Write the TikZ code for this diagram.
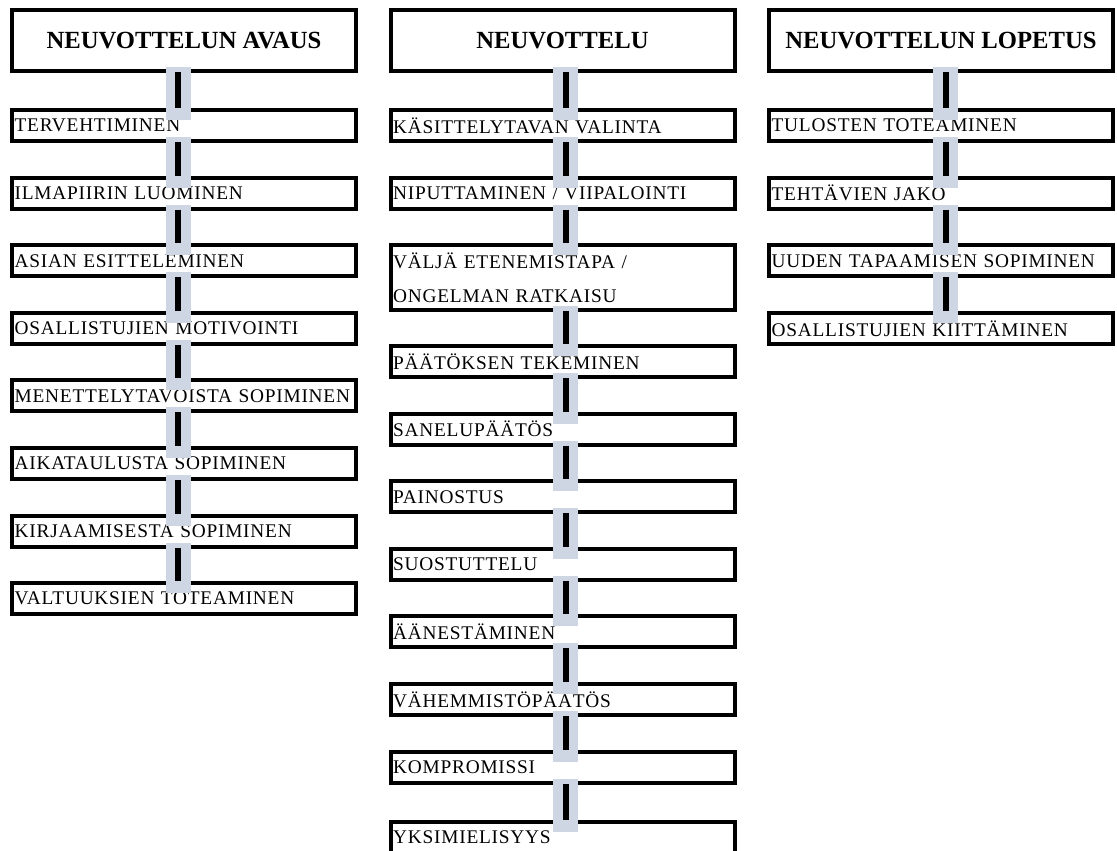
\documentclass[tikz,border=0pt]{standalone}
\usepackage{fontspec}
\setmainfont{Liberation Serif}
\newfontfamily\itemfont[LetterSpace=4]{Liberation Serif}
\usepackage{tikz}
\usepackage{xcolor}
\definecolor{linkgray}{RGB}{207,214,227}
\begin{document}
\begin{tikzpicture}[x=0.75pt,y=-0.75pt,
    box/.style={draw=black,line width=3pt,minimum width=258pt,minimum height=23.25pt,
        text width=254pt,inner xsep=2pt,inner ysep=0pt,align=left,
        font=\itemfont\fontsize{14.5}{16}\selectfont},
    headbox/.style={draw=black,line width=3pt,minimum width=258pt,minimum height=45.75pt,
        align=center,font=\bfseries\fontsize{18.5}{22}\selectfont},
    link/.style={draw=linkgray,line width=18.75pt,shorten <=-4.5pt,shorten >=-9pt,
        postaction={draw=black,line width=4.5pt,shorten <=-0.75pt,shorten >=0pt}}]
    \useasboundingbox (0,0) rectangle (1117,850);
    \clip (0,0) rectangle (1117,850);
    % avaus
    \node[headbox] (avaus) at (184,40.5) {NEUVOTTELUN AVAUS};
    \node[box] (a1) at (184,125.5) {TERVEHTIMINEN};
    \node[box] (a2) at (184,193.1) {ILMAPIIRIN LUOMINEN};
    \node[box] (a3) at (184,260.7) {ASIAN ESITTELEMINEN};
    \node[box] (a4) at (184,328.3) {OSALLISTUJIEN MOTIVOINTI};
    \node[box] (a5) at (184,395.9) {MENETTELYTAVOISTA SOPIMINEN};
    \node[box] (a6) at (184,463.5) {AIKATAULUSTA SOPIMINEN};
    \node[box] (a7) at (184,531.1) {KIRJAAMISESTA SOPIMINEN};
    \node[box] (a8) at (184,598.7) {VALTUUKSIEN TOTEAMINEN};
    % neuvottelu
    \node[headbox] (neuv) at (562.5,40.5) {NEUVOTTELU};
    \node[box] (n1) at (562.5,125.5) {KÄSITTELYTAVAN VALINTA};
    \node[box] (n2) at (562.5,193.1) {NIPUTTAMINEN / VIIPALOINTI};
    \node[box,minimum height=48.75pt,font=\itemfont\fontsize{14.5}{25.5}\selectfont] (n3) at (562.5,277.5)
        {VÄLJÄ ETENEMISTAPA /\\ONGELMAN RATKAISU};
    \node[box] (n4) at (562.5,361.5) {PÄÄTÖKSEN TEKEMINEN};
    \node[box] (n5) at (562.5,429.1) {SANELUPÄÄTÖS};
    \node[box] (n6) at (562.5,496.7) {PAINOSTUS};
    \node[box] (n7) at (562.5,564.3) {SUOSTUTTELU};
    \node[box] (n8) at (562.5,631.9) {ÄÄNESTÄMINEN};
    \node[box] (n9) at (562.5,699.5) {VÄHEMMISTÖPÄÄTÖS};
    \node[box] (n10) at (562.5,767.1) {KOMPROMISSI};
    \node[box] (n11) at (562.5,837.5) {YKSIMIELISYYS};
    % lopetus
    \node[headbox] (lop) at (941,40.5) {NEUVOTTELUN LOPETUS};
    \node[box] (l1) at (941,125.5) {TULOSTEN TOTEAMINEN};
    \node[box] (l2) at (941,193.1) {TEHTÄVIEN JAKO};
    \node[box] (l3) at (941,260.7) {UUDEN TAPAAMISEN SOPIMINEN};
    \node[box] (l4) at (941,328.3) {OSALLISTUJIEN KIITTÄMINEN};
    % links
    \draw[link] ([xshift=-4.5pt]avaus.south) -- ([xshift=-4.5pt]a1.north);
    \draw[link] ([xshift=-4.5pt]a1.south) -- ([xshift=-4.5pt]a2.north);
    \draw[link] ([xshift=-4.5pt]a2.south) -- ([xshift=-4.5pt]a3.north);
    \draw[link] ([xshift=-4.5pt]a3.south) -- ([xshift=-4.5pt]a4.north);
    \draw[link] ([xshift=-4.5pt]a4.south) -- ([xshift=-4.5pt]a5.north);
    \draw[link] ([xshift=-4.5pt]a5.south) -- ([xshift=-4.5pt]a6.north);
    \draw[link] ([xshift=-4.5pt]a6.south) -- ([xshift=-4.5pt]a7.north);
    \draw[link] ([xshift=-4.5pt]a7.south) -- ([xshift=-4.5pt]a8.north);
    \draw[link] ([xshift=2.6pt]neuv.south) -- ([xshift=2.6pt]n1.north);
    \draw[link] ([xshift=2.6pt]n1.south) -- ([xshift=2.6pt]n2.north);
    \draw[link] ([xshift=2.6pt]n2.south) -- ([xshift=2.6pt]n3.north);
    \draw[link] ([xshift=2.6pt]n3.south) -- ([xshift=2.6pt]n4.north);
    \draw[link] ([xshift=2.6pt]n4.south) -- ([xshift=2.6pt]n5.north);
    \draw[link] ([xshift=2.6pt]n5.south) -- ([xshift=2.6pt]n6.north);
    \draw[link] ([xshift=2.6pt]n6.south) -- ([xshift=2.6pt]n7.north);
    \draw[link] ([xshift=2.6pt]n7.south) -- ([xshift=2.6pt]n8.north);
    \draw[link] ([xshift=2.6pt]n8.south) -- ([xshift=2.6pt]n9.north);
    \draw[link] ([xshift=2.6pt]n9.south) -- ([xshift=2.6pt]n10.north);
    \draw[link] ([xshift=2.6pt]n10.south) -- ([xshift=2.6pt]n11.north);
    \draw[link] ([xshift=3.4pt]lop.south) -- ([xshift=3.4pt]l1.north);
    \draw[link] ([xshift=3.4pt]l1.south) -- ([xshift=3.4pt]l2.north);
    \draw[link] ([xshift=3.4pt]l2.south) -- ([xshift=3.4pt]l3.north);
    \draw[link] ([xshift=3.4pt]l3.south) -- ([xshift=3.4pt]l4.north);
\end{tikzpicture}
\end{document}
